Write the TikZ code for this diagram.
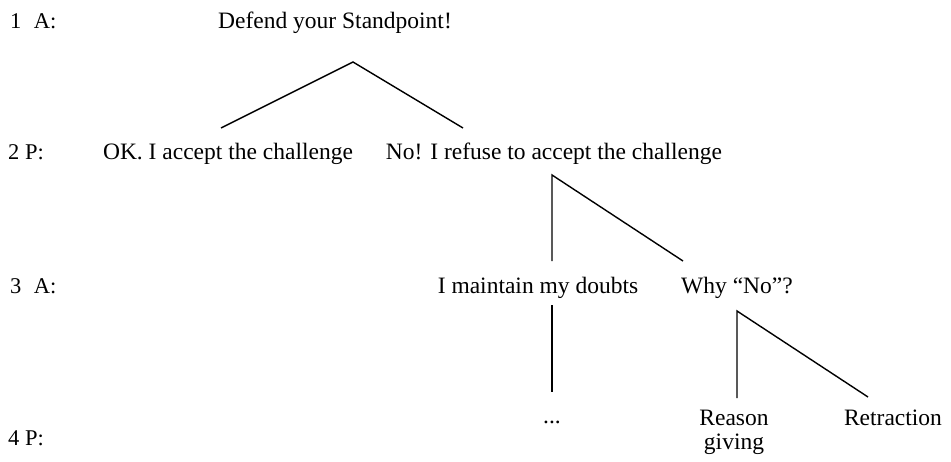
\documentclass[tikz,border=0pt]{standalone}
\usepackage{fontspec}
\setmainfont{Liberation Serif}
\begin{document}
\begin{tikzpicture}[x=1pt,y=-1pt,
  txt/.style={font=\fontsize{23.5}{24}\selectfont, inner sep=0pt, anchor=base},
  lbl/.style={font=\fontsize{22.5}{24}\selectfont, inner sep=0pt, anchor=base west},
  edge/.style={line width=1.4pt}]
\useasboundingbox (0,0) rectangle (951,461);
% row labels
\node[lbl] (l1) at (10,28) {1\hspace{0.55em}A:};
\node[lbl] (l2) at (8,159) {2 P:};
\node[lbl] (l3) at (10,293) {3\hspace{0.55em}A:};
\node[lbl] (l4) at (8,445) {4 P:};
% moves
\node[txt] (n1) at (335,28) {Defend your Standpoint!};
\node[txt] (n2) at (228,159) {OK. I accept the challenge};
\node[txt] (n3) at (554,159) {No! I refuse to accept the challenge};
\node[txt] (n4) at (538,293) {I maintain my doubts};
\node[txt] (n5) at (737,293) {Why “No”?};
\node[txt] (n6) at (552,423) {...};
\node[txt, anchor=north, align=center] (n7) at (734,410) {Reason\\giving};
\node[txt] (n8) at (893,425) {Retraction};
% connector points
\coordinate (a1) at (353,62);
\coordinate (a1l) at (221,128);
\coordinate (a1r) at (463,128);
\coordinate (a2) at (552,175);
\coordinate (a2l) at (552,261);
\coordinate (a2r) at (683,261);
\coordinate (a3) at (552,305);
\coordinate (a3b) at (552,392);
\coordinate (a4) at (737,311);
\coordinate (a4l) at (737,398);
\coordinate (a4r) at (868,397);
% connectors
\draw[edge] (a1l) -- (a1) -- (a1r);
\draw[edge] (a2l) -- (a2) -- (a2r);
\draw[edge] (a3) -- (a3b);
\draw[edge] (a4l) -- (a4) -- (a4r);
\end{tikzpicture}
\end{document}
